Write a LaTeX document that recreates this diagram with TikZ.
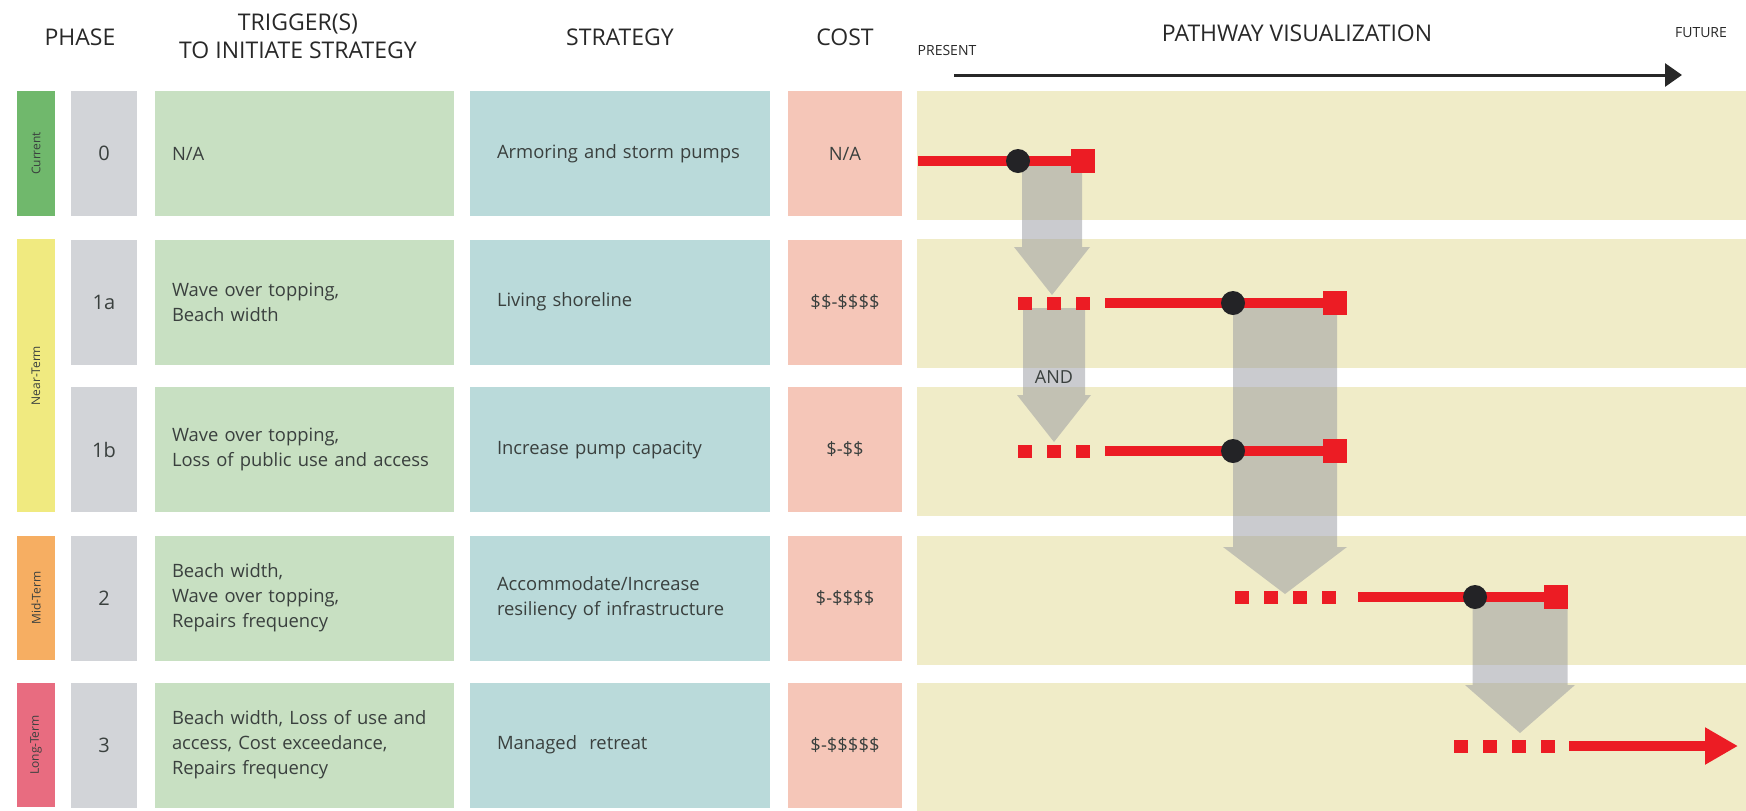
\documentclass[tikz,border=0pt]{standalone}
\usepackage{fontspec}
\setmainfont{Open Sans}
\usepackage{tikz}
\usetikzlibrary{arrows.meta}

\definecolor{curgreen}{RGB}{112,184,108}
\definecolor{nearyellow}{RGB}{240,234,128}
\definecolor{midorange}{RGB}{246,174,98}
\definecolor{longred}{RGB}{232,108,128}
\definecolor{numgray}{RGB}{210,212,216}
\definecolor{triggreen}{RGB}{200,224,194}
\definecolor{stratblue}{RGB}{186,218,218}
\definecolor{costpink}{RGB}{245,198,184}
\definecolor{bandtan}{RGB}{240,236,200}
\definecolor{pathred}{RGB}{236,28,36}
\definecolor{dropgray}{RGB}{150,152,160}
\definecolor{dotcol}{RGB}{35,35,38}
\definecolor{txtcol}{RGB}{58,64,62}
\definecolor{headcol}{RGB}{40,40,40}

% #1 top of shaft, #2 half shaft, #3 half head, #4 shaft length, #5 head length
\newcommand{\pathdrop}[5]{%
  \fill[dropfill] (#1) ++(-#2,0) -- ++(2*#2,0) -- ++(0,#4) -- ++(#3-#2,0)
    -- ++(-#3,#5) -- ++(-#3,-#5) -- ++(#3-#2,0) -- cycle;}

\begin{document}
\begin{tikzpicture}[x=0.5pt,y=-0.5pt,inner sep=0pt,outer sep=0pt,
  head/.style={text=headcol,font=\fontsize{11.5}{14}\selectfont,align=center},
  tick/.style={text=headcol,font=\fontsize{7}{8}\selectfont},
  phasebar/.style={rotate=90,minimum height=19pt,text=txtcol,font=\fontsize{6}{7}\selectfont},
  cell/.style={minimum height=62.5pt,text=txtcol,font=\fontsize{9.2}{12.5}\selectfont},
  numbox/.style={cell,fill=numgray,minimum width=33pt,font=\fontsize{10}{12}\selectfont},
  trigbox/.style={cell,fill=triggreen,text width=132.5pt,inner xsep=8.5pt,align=left},
  stratbox/.style={cell,fill=stratblue,text width=123pt,inner xsep=13.5pt,align=left},
  costbox/.style={cell,fill=costpink,minimum width=57pt},
  band/.style={fill=bandtan,minimum width=414.5pt,minimum height=64.5pt},
  redline/.style={draw=pathred,line width=5pt},
  dashline/.style={draw=pathred,line width=6.5pt,dash pattern=on 7pt off 7.5pt},
  endcap/.style={fill=pathred,minimum size=12pt},
  dot/.style={circle,fill=dotcol,minimum size=12pt},
  dropfill/.style={fill=dropgray,fill opacity=0.5}]
\useasboundingbox (0,0) rectangle (1746,810);

% column heads
\node[head] (hphase) at (80,37) {PHASE};
\node[head] (htrig) at (298,36) {TRIGGER(S)\\TO INITIATE STRATEGY};
\node[head] (hstrat) at (620,37) {STRATEGY};
\node[head] (hcost) at (845,37) {COST};
\node[head] (hpath) at (1297,33) {PATHWAY VISUALIZATION};
\node[tick] (present) at (947,50) {PRESENT};
\node[tick] (future) at (1701,33) {FUTURE};
\coordinate (tstart) at (954,75);
\coordinate (tend) at (1682,75);
\draw[headcol,line width=1.5pt,-{Triangle[length=8.5pt,width=11.5pt]}] (tstart) -- (tend);

% phase bars
\node[phasebar,fill=curgreen,minimum width=62.5pt] (pcur) at (36,153.5) {Current};
\node[phasebar,fill=nearyellow,minimum width=136.5pt] (pnear) at (36,375.5) {Near-Term};
\node[phasebar,fill=midorange,minimum width=62pt] (pmid) at (36,598) {Mid-Term};
\node[phasebar,fill=longred,minimum width=62pt] (plong) at (36,745) {Long-Term};

% table rows
\node[numbox] (num0) at (104,153.5) {0};
\node[trigbox] (trig0) at (304.5,153.5) {N/A};
\node[stratbox] (strat0) at (620,153.5) {Armoring and storm pumps};
\node[costbox] (cost0) at (845,153.5) {N/A\\[8pt]};

\node[numbox] (num1a) at (104,302) {1a};
\node[trigbox] (trig1a) at (304.5,302) {Wave over topping,\\Beach width};
\node[stratbox] (strat1a) at (620,302) {Living shoreline};
\node[costbox] (cost1a) at (845,302) {\$\$-\$\$\$\$};

\node[numbox] (num1b) at (104,449.5) {1b};
\node[trigbox] (trig1b) at (304.5,449.5) {Wave over topping,\\Loss of public use and access};
\node[stratbox] (strat1b) at (620,449.5) {Increase pump capacity};
\node[costbox] (cost1b) at (845,449.5) {\$-\$\$};

\node[numbox] (num2) at (104,598) {2};
\node[trigbox] (trig2) at (304.5,598) {Beach width,\\Wave over topping,\\Repairs frequency};
\node[stratbox] (strat2) at (620,598) {Accommodate/Increase\\resiliency of infrastructure};
\node[costbox] (cost2) at (845,598) {\$-\$\$\$\$};

\node[numbox] (num3) at (104,745) {3};
\node[trigbox] (trig3) at (304.5,745) {Beach width, Loss of use and\\access, Cost exceedance,\\Repairs frequency};
\node[stratbox] (strat3) at (620,745) {Managed\ \ retreat};
\node[costbox] (cost3) at (845,745) {\$-\$\$\$\$\$};

% pathway bands
\node[band] (band0) at (1331.5,155.5) {};
\node[band] (band1a) at (1331.5,303.5) {};
\node[band] (band1b) at (1331.5,451.5) {};
\node[band] (band2) at (1331.5,600.5) {};
\node[band] (band3) at (1331.5,747.5) {};

% grey drops between rows
\coordinate (dropA) at (1052,165);
\coordinate (dropB) at (1054,308);
\coordinate (dropC) at (1285,308);
\coordinate (dropD) at (1520,602);
\pathdrop{dropA}{30}{38}{82}{48}
\pathdrop{dropB}{31}{37}{87}{47}
\pathdrop{dropC}{52}{62}{239}{47}
\pathdrop{dropD}{47.5}{55}{83}{48}
\node[font=\fontsize{9}{10}\selectfont,text=txtcol] (andlbl) at (1054,377) {AND};

% red pathways
\coordinate (s0) at (918,161);
\node[endcap] (e0) at (1083,161) {};
\draw[redline] (s0) -- (e0);
\node[dot] (d0) at (1018,161) {};

\coordinate (w1a) at (1018,303);
\coordinate (v1a) at (1090,303);
\coordinate (s1a) at (1105,303);
\node[endcap] (e1a) at (1335,303) {};
\draw[dashline] (w1a) -- (v1a);
\draw[redline] (s1a) -- (e1a);
\node[dot] (d1a) at (1233,303) {};

\coordinate (w1b) at (1018,451);
\coordinate (v1b) at (1090,451);
\coordinate (s1b) at (1105,451);
\node[endcap] (e1b) at (1335,451) {};
\draw[dashline] (w1b) -- (v1b);
\draw[redline] (s1b) -- (e1b);
\node[dot] (d1b) at (1233,451) {};

\coordinate (w2) at (1235,597);
\coordinate (v2) at (1337,597);
\coordinate (s2) at (1358,597);
\node[endcap] (e2) at (1556,597) {};
\draw[dashline] (w2) -- (v2);
\draw[redline] (s2) -- (e2);
\node[dot] (d2) at (1475,597) {};

\coordinate (w3) at (1454,746);
\coordinate (v3) at (1556,746);
\coordinate (s3) at (1569,746);
\coordinate (e3) at (1738,746);
\draw[dashline] (w3) -- (v3);
\draw[redline,-{Triangle[length=16.5pt,width=17.5pt]}] (s3) -- (e3);
\end{tikzpicture}
\end{document}
